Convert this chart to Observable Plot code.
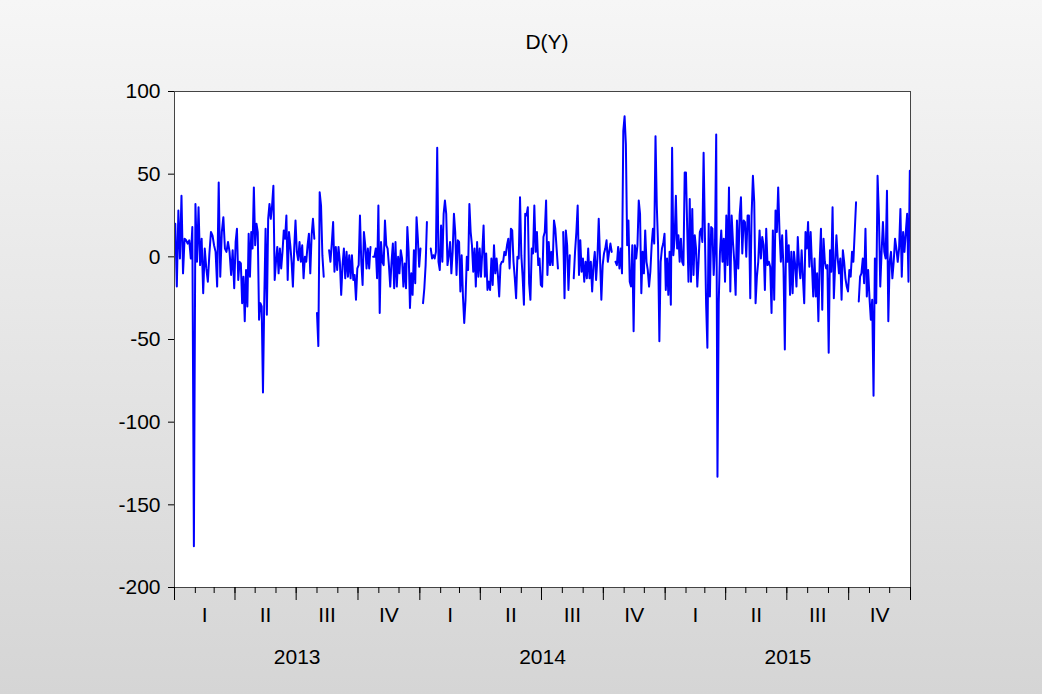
<!DOCTYPE html>
<html><head><meta charset="utf-8">
<script src="https://cdn.jsdelivr.net/npm/d3@7"></script>
<script src="https://cdn.jsdelivr.net/npm/@observablehq/plot@0.6"></script>
<style>
html,body{margin:0;padding:0;}
#wrap{position:relative;width:1042px;height:694px;background:linear-gradient(#f6f6f6,#d5d5d5);font-family:"Liberation Sans",Arial,sans-serif;overflow:hidden}
#title{position:absolute;left:0;width:1094px;top:30px;text-align:center;font-size:21px;line-height:24px;color:#000}
#chart{position:absolute;left:0;top:0}
</style></head><body><div id="wrap"><div id="chart"></div><div id="title"></div></div>
<script>
const title = "D(Y)";
const years = [2013, 2014, 2015];
const quarterLabels = ["I", "II", "III", "IV"];
const yTicks = [100, 50, 0, -50, -100, -150, -200];

// Values, quarter by quarter (null = gap in the line)
const q2013_1 = [20,-18,28,-1,37,-10,11,10,8,10,-1,18,-175,32,-3,30,-5,11,-22,5,-7,-15,2,15,13,7,3,-18,45,-12,15,24,5,3,9,3,-11,4,-19];
const q2013_2 = [9,17,-14,-3,-4,-28,-12,-39,-8,-30,14,-12,15,5,42,7,20,15,-38,-28,-30,-82,-25,17,-35,23,32,23,31,43,-14,-3,6,-10,5,-7,3,16,11,25,-14,15,7,-3,-18,5,22];
const q2013_3 = [3,-2,9,-3,7,-13,0,-3,7,14,-10,13,23,11,null,-34,-54,39,31,1,-12,null,null,null,4,-3,8,21,-9,6,-8,6,-3,-23,-5,5,-13,3,-12,1,-13,1,-14,-11,-26,-7];
const q2013_4 = [-5,25,-3,-17,15,7,-7,5,-7,6,null,0,0,5,-13,31,-34,9,-3,-5,22,7,5,-5,-18,-3,8,-19,9,-18,0,-10,4,-1,-18,-4,-19,18,3,-31,-10,-23,4,-16,24,11,-6];
const q2014_1 = [5,null,-28,-19,-5,21,null,null,5,-1,1,-1,3,66,-3,-8,19,-3,26,34,26,-5,1,9,-10,3,26,15,-11,10,9,-21,1,-24,-40,-26,0,-8,32,15,7,-9,5,-18,9,-12,5];
const q2014_2 = [-12,3,19,-12,2,-20,-15,-20,-1,-17,7,-10,-1,-11,-24,-5,-3,-3,3,1,7,11,-7,17,16,-3,-13,-25,0,-1,36,1,-12,-29,26,25,30,-16,-26,5,2,31,3,15,-5,-1,-17];
const q2014_3 = [-18,12,15,34,-11,9,-5,3,-5,22,17,5,-7,null,null,null,15,-25,16,7,-20,1,null,null,-13,3,15,31,-11,10,-9,-1,-15,-3,-13,5,-13,-3,-21,-5,3,-14,-1,23,-1,-26,-5];
const q2014_4 = [2,5,10,-3,3,8,3,null,null,-3,-5,6,-7,5,-10,76,85,68,7,22,-15,-18,7,-45,7,-1,7,34,26,-22,3,-10,16,-3,-8,-18,-9,7,17,8,73,31,7,-51,-3,5,8,14];
const q2015_1 = [-20,-1,-23,3,-29,66,1,11,37,5,13,-3,11,-3,-5,51,51,17,-15,35,-15,29,-11,13,5,-18,-3,15,17,9,63,15,-29,-55,20,-24,18,17,-11,6,74,-133,-28,3,16,-3,11,-15];
const q2015_2 = [25,-5,42,-21,25,9,-3,-23,22,-7,25,36,2,22,21,0,25,25,-25,25,49,33,-28,-12,-3,16,-1,12,7,-20,17,-5,-3,-6,-34,16,-26,28,15,42,15,-3,13,-7,-56,16];
const q2015_3 = [-3,7,-23,3,-22,3,-5,-18,12,-5,-13,4,-13,-28,15,5,21,-6,15,-5,-24,-1,-24,-10,-39,-3,17,-32,11,-3,-7,-5,-58,4,-9,30,-25,-5,13,-1,-10,-1,-26,4,-3,-13,-18,-21];
const q2015_4 = [-8,-12,3,-3,15,33,null,-27,-12,-10,-1,-16,17,-24,-8,-25,-38,-26,-84,-1,-28,49,25,-18,3,21,3,-1,40,-39,-3,3,-13,-3,11,5,-3,5,29,-12,15,3,15,26,-15,52];

const quarterSeries = [
  [2013, 0, q2013_1], [2013, 1, q2013_2], [2013, 2, q2013_3], [2013, 3, q2013_4],
  [2014, 0, q2014_1], [2014, 1, q2014_2], [2014, 2, q2014_3], [2014, 3, q2014_4],
  [2015, 0, q2015_1], [2015, 1, q2015_2], [2015, 2, q2015_3], [2015, 3, q2015_4]
];

const data = [];
for (const [yr, q, vals] of quarterSeries) {
  const s = Date.UTC(yr, q * 3, 1), e = Date.UTC(yr, q * 3 + 3, 1);
  vals.forEach((v, i) => data.push({date: new Date(s + (e - s) * (i + 0.5) / vals.length), value: v}));
}

const t0 = new Date(Date.UTC(years[0], 0, 1));
const t1 = new Date(Date.UTC(years[years.length - 1] + 1, 0, 1));
const months = d3.utcMonth.range(t0, new Date(+t1 + 1));
const quarterStarts = d3.utcMonth.every(3).range(t0, new Date(+t1 + 1));
const quarterMids = quarterSeries.map(([yr, q]) => new Date((Date.UTC(yr, q * 3, 1) + Date.UTC(yr, q * 3 + 3, 1)) / 2));
const yearMids = years.map(y => new Date((Date.UTC(y, 0, 1) + Date.UTC(y + 1, 0, 1)) / 2));

document.getElementById("title").textContent = title;

const chart = Plot.plot({
  width: 1042, height: 694,
  marginTop: 91, marginBottom: 107, marginLeft: 174, marginRight: 132,
  style: {background: "transparent", fontSize: "21px", fontFamily: "'Liberation Sans', Arial, sans-serif", color: "#000", overflow: "visible"},
  x: {type: "utc", domain: [t0, t1]},
  y: {domain: [-200, 100]},
  marks: [
    Plot.frame({fill: "white", stroke: "none"}),
    Plot.line(data, {x: "date", y: "value", stroke: "#0000ff", strokeWidth: 2}),
    Plot.frame({stroke: "#444"}),
    Plot.axisY({ticks: yTicks, tickSize: 6, tickPadding: 8, tickFormat: d => String(d), label: null}),
    Plot.axisX({ticks: months, tickSize: 6, tickFormat: () => "", label: null}),
    Plot.axisX({ticks: quarterStarts, tickSize: 13, tickFormat: () => "", label: null}),
    Plot.axisX({ticks: quarterMids, tickSize: 0, tickPadding: 20, tickFormat: d => quarterLabels[Math.floor(d.getUTCMonth() / 3)], label: null}),
    Plot.axisX({ticks: yearMids, tickSize: 0, tickPadding: 62, tickFormat: d => String(d.getUTCFullYear()), label: null})
  ]
});
document.getElementById("chart").appendChild(chart);
</script>
</body></html>
